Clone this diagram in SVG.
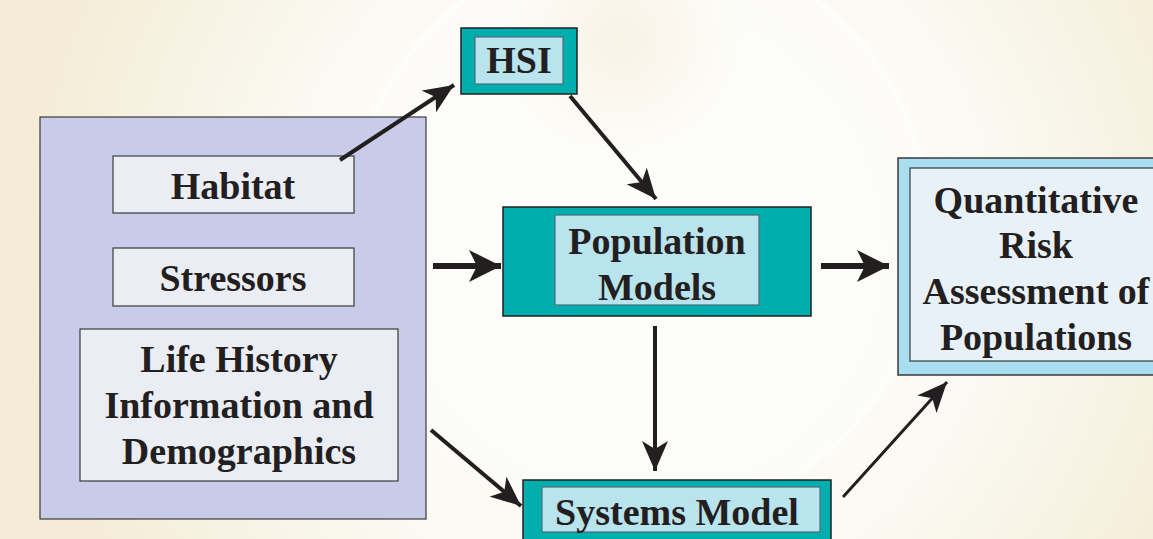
<svg xmlns="http://www.w3.org/2000/svg" width="1153" height="539" viewBox="0 0 1153 539">
<defs>
<radialGradient id="bg" cx="640" cy="250" r="620" gradientUnits="userSpaceOnUse">
<stop offset="0" stop-color="#fdfdfa"/>
<stop offset="0.55" stop-color="#fbfaf4"/>
<stop offset="1" stop-color="#f4ecd6"/>
</radialGradient>
<radialGradient id="blob" cx="620" cy="40" r="120" gradientUnits="userSpaceOnUse">
<stop offset="0" stop-color="#f5ecd8" stop-opacity="0.9"/>
<stop offset="1" stop-color="#f5ecd8" stop-opacity="0"/>
</radialGradient>
<marker id="big" viewBox="0 0 32 32" markerWidth="32" markerHeight="32" refX="32" refY="16" orient="auto" markerUnits="userSpaceOnUse">
<path d="M0,0 L32,16 L0,32 L8,16 z" fill="#231f20"/>
</marker>
<marker id="small" viewBox="0 0 30 26" markerWidth="30" markerHeight="26" refX="30" refY="13" orient="auto" markerUnits="userSpaceOnUse">
<path d="M0,0 L30,13 L0,26 L8,13 z" fill="#231f20"/>
</marker>
<style>
.t{font-family:"Liberation Serif","Times New Roman",serif;font-weight:bold;font-size:38px;fill:#231f20;text-anchor:middle}
.teal{fill:#00aeae;stroke:#231f20;stroke-width:1.5}
.inner{fill:#b9e3ed;stroke:#4f6f77;stroke-width:1.2}
.grey{fill:#ebedf5;stroke:#3a3a3a;stroke-width:1.2}
.c{stroke:#231f20;fill:none}
</style>
</defs>
<rect width="1153" height="539" fill="url(#bg)"/>
<rect width="1153" height="539" fill="url(#blob)"/>
<circle cx="640" cy="230" r="290" fill="#ffffff" fill-opacity="0.3" stroke="#ffffff" stroke-width="6" stroke-opacity="0.45"/>

<g id="inputs">
<rect x="40" y="117" width="386" height="402" fill="#c8cce8" stroke="#3a3a3a" stroke-width="1.2"/>
</g>
<g id="habitat">
<rect class="grey" x="113" y="156" width="241" height="57"/>
<text class="t" x="233" y="199">Habitat</text>
</g>
<g id="stressors">
<rect class="grey" x="113" y="248" width="241" height="58"/>
<text class="t" x="233" y="291">Stressors</text>
</g>
<g id="lifehistory">
<rect class="grey" x="80" y="329" width="318" height="152"/>
<text class="t" x="239" y="372">Life History</text>
<text class="t" x="239" y="418">Information and</text>
<text class="t" x="239" y="464">Demographics</text>
</g>
<g id="hsi">
<rect class="teal" x="461" y="28" width="116" height="66"/>
<rect class="inner" x="475" y="37" width="88" height="47"/>
<text class="t" x="519" y="73">HSI</text>
</g>
<g id="population">
<rect class="teal" x="503" y="207" width="308" height="109"/>
<rect class="inner" x="555" y="215" width="204" height="90"/>
<text class="t" x="657" y="254">Population</text>
<text class="t" x="657" y="300">Models</text>
</g>
<g id="systems">
<rect class="teal" x="523" y="480" width="308" height="70"/>
<rect class="inner" x="542" y="487" width="278" height="45"/>
<text class="t" x="677" y="525">Systems Model</text>
</g>
<g id="qra">
<rect x="898" y="158" width="265" height="217" fill="#a8def0" stroke="#3a3a3a" stroke-width="1.5"/>
<rect x="910" y="168" width="253" height="193" fill="#e9f1f8" stroke="#3a3a3a" stroke-width="1.2"/>
<text class="t" x="1036" y="213">Quantitative</text>
<text class="t" x="1036" y="258">Risk</text>
<text class="t" x="1036" y="304">Assessment of</text>
<text class="t" x="1036" y="350">Populations</text>
</g>

<g id="connectors">
<line class="c" x1="340" y1="160" x2="454" y2="85" stroke-width="4" marker-end="url(#small)"/>
<line class="c" x1="570" y1="96" x2="656" y2="199" stroke-width="4" marker-end="url(#small)"/>
<line class="c" x1="433" y1="266" x2="501" y2="266" stroke-width="6" marker-end="url(#big)"/>
<line class="c" x1="821" y1="266" x2="889" y2="266" stroke-width="6" marker-end="url(#big)"/>
<line class="c" x1="655" y1="326" x2="655" y2="471" stroke-width="4" marker-end="url(#small)"/>
<line class="c" x1="431" y1="430" x2="521" y2="506" stroke-width="4" marker-end="url(#small)"/>
<line class="c" x1="843" y1="497" x2="947" y2="382" stroke-width="3" marker-end="url(#small)"/>
</g>
</svg>
